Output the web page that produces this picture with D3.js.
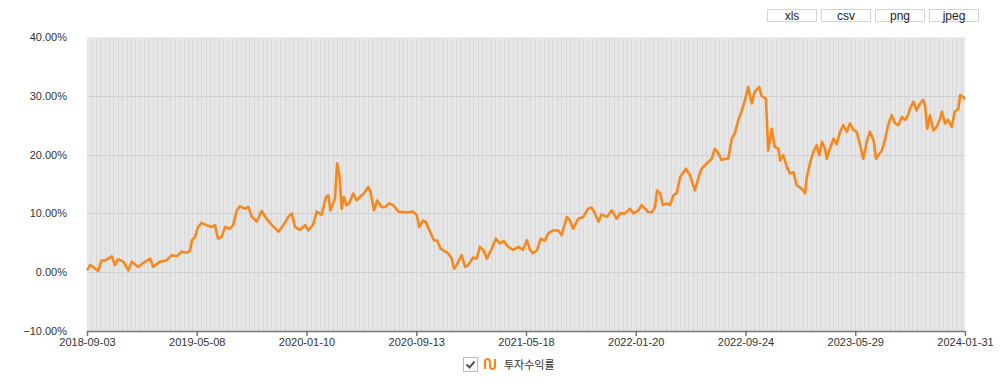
<!DOCTYPE html>
<html><head><meta charset="utf-8">
<script src="https://cdn.jsdelivr.net/npm/d3@7"></script>
<style>
html,body{margin:0;padding:0;background:#fff;}
svg{display:block;font-family:"Liberation Sans",Arial,sans-serif;}
</style></head>
<body><svg id="c" width="1005" height="384"></svg>
<script>
const dates = ["2018-09-03","2018-09-10","2018-09-17","2018-09-28","2018-10-06","2018-10-14","2018-10-29","2018-11-05","2018-11-12","2018-11-24",
"2018-12-05","2018-12-13","2018-12-27","2019-01-08","2019-01-23","2019-01-30","2019-02-14","2019-03-01","2019-03-13","2019-03-24",
"2019-04-04","2019-04-15","2019-04-23","2019-04-27","2019-05-04","2019-05-11","2019-05-19","2019-05-30","2019-06-11","2019-06-18",
"2019-06-25","2019-07-03","2019-07-11","2019-07-22","2019-07-29","2019-08-06","2019-08-13","2019-08-25","2019-09-01","2019-09-09",
"2019-09-20","2019-10-01","2019-10-12","2019-10-24","2019-11-08","2019-11-19","2019-11-30","2019-12-08","2019-12-15","2019-12-26",
"2020-01-07","2020-01-14","2020-01-25","2020-02-02","2020-02-13","2020-02-23","2020-02-28","2020-03-04","2020-03-10","2020-03-14",
"2020-03-19","2020-03-24","2020-03-29","2020-04-03","2020-04-09","2020-04-15","2020-04-24","2020-05-02","2020-05-09","2020-05-18",
"2020-05-28","2020-06-02","2020-06-10","2020-06-17","2020-06-27","2020-07-05","2020-07-14","2020-07-23","2020-08-04","2020-08-15",
"2020-08-26","2020-09-06","2020-09-14","2020-09-20","2020-09-28","2020-10-05","2020-10-14","2020-10-23","2020-10-30","2020-11-07",
"2020-11-17","2020-11-24","2020-12-02","2020-12-07","2020-12-13","2020-12-24","2021-01-01","2021-01-08","2021-01-19","2021-01-27",
"2021-02-03","2021-02-11","2021-02-19","2021-03-02","2021-03-11","2021-03-20","2021-03-29","2021-04-08","2021-04-19","2021-05-01",
"2021-05-11","2021-05-20","2021-05-27","2021-06-03","2021-06-12","2021-06-20","2021-06-30","2021-07-07","2021-07-18","2021-07-30",
"2021-08-06","2021-08-18","2021-08-25","2021-09-01","2021-09-13","2021-09-24","2021-10-05","2021-10-13","2021-10-20","2021-10-28",
"2021-11-04","2021-11-16","2021-11-27","2021-12-08","2021-12-16","2021-12-27","2022-01-07","2022-01-15","2022-01-26","2022-02-02",
"2022-02-10","2022-02-17","2022-02-25","2022-03-04","2022-03-09","2022-03-16","2022-03-22","2022-03-31","2022-04-07","2022-04-15",
"2022-04-22","2022-04-30","2022-05-13","2022-05-22","2022-06-02","2022-06-10","2022-06-17","2022-06-29","2022-07-10","2022-07-17",
"2022-07-25","2022-08-01","2022-08-09","2022-08-16","2022-08-24","2022-08-31","2022-09-08","2022-09-15","2022-09-23","2022-09-30",
"2022-10-08","2022-10-15","2022-10-25","2022-10-30","2022-11-09","2022-11-14","2022-11-22","2022-11-29","2022-12-07","2022-12-11",
"2022-12-18","2022-12-26","2023-01-02","2023-01-10","2023-01-17","2023-01-25","2023-02-01","2023-02-05","2023-02-09","2023-02-16",
"2023-02-24","2023-03-03","2023-03-09","2023-03-15","2023-03-22","2023-03-26","2023-04-02","2023-04-10","2023-04-17","2023-04-25",
"2023-05-02","2023-05-10","2023-05-17","2023-05-25","2023-06-01","2023-06-09","2023-06-16","2023-06-24","2023-07-01","2023-07-09",
"2023-07-15","2023-07-20","2023-07-28","2023-08-04","2023-08-11","2023-08-19","2023-08-27","2023-09-03","2023-09-11","2023-09-18",
"2023-09-25","2023-09-29","2023-10-07","2023-10-14","2023-10-22","2023-10-29","2023-11-02","2023-11-07","2023-11-13","2023-11-21",
"2023-11-28","2023-12-06","2023-12-10","2023-12-17","2023-12-24","2024-01-01","2024-01-08","2024-01-16","2024-01-20","2024-01-27",
"2024-01-31"];
const returns = [0.3,1.2,0.9,0.2,2.0,2.0,2.7,1.2,2.2,1.8,
0.3,1.8,0.9,1.6,2.3,0.9,1.8,2.0,2.9,2.7,
3.5,3.3,3.7,5.4,6.0,7.7,8.4,8.0,7.7,8.0,
5.7,6.0,7.7,7.4,8.0,10.5,11.2,10.8,11.1,9.4,
8.6,10.4,9.1,8.0,6.9,8.0,9.4,10.0,7.7,7.2,
8.0,7.1,8.1,10.3,9.8,12.8,13.1,10.5,11.7,12.5,
18.5,16.5,10.8,12.8,11.4,11.7,13.4,12.2,12.8,13.4,
14.5,13.7,10.5,12.2,11.1,11.1,11.7,11.4,10.3,10.2,
10.2,10.3,9.7,7.7,8.8,8.5,6.9,5.4,5.4,4.0,
3.5,3.2,2.3,0.6,1.2,2.9,0.9,1.2,2.5,2.3,
4.3,3.8,2.3,4.0,5.7,4.9,5.3,4.3,3.8,4.3,
3.8,5.4,3.8,3.2,3.8,5.7,5.4,6.6,7.1,7.1,
6.3,9.4,8.8,7.4,9.1,9.4,10.8,11.0,10.0,8.6,
9.8,9.4,10.5,9.1,10.0,10.0,10.8,10.0,10.5,11.4,
10.8,10.2,10.2,11.0,13.9,13.4,11.4,11.7,11.4,13.1,
13.4,16.2,17.6,16.5,13.9,16.0,17.6,18.5,19.3,21.0,
20.2,19.1,19.3,19.3,22.7,23.6,25.9,27.3,29.3,31.5,
28.7,30.7,31.5,30.0,29.5,20.7,24.4,21.3,21.0,19.0,
19.9,17.9,16.8,17.0,14.8,14.4,13.9,13.4,16.2,18.5,
20.5,21.6,19.9,22.2,21.0,19.3,21.0,22.7,21.8,23.9,
25.0,23.9,25.3,24.2,23.9,21.6,19.3,22.2,23.9,22.5,
19.3,19.9,20.7,22.5,25.0,26.7,25.3,25.0,26.4,25.9,
26.7,27.8,29.0,27.5,28.7,29.3,28.4,24.4,26.7,24.1,
24.7,26.1,27.3,25.3,25.9,24.7,27.3,27.8,30.1,29.8,
29.4];
const xTickLabels = ["2018-09-03","2019-05-08","2020-01-10","2020-09-13","2021-05-18","2022-01-20","2022-09-24","2023-05-29","2024-01-31"];
const yTicks = [-10,0,10,20,30,40];
const seriesName = "투자수익률";
const buttons = ["xls","csv","png","jpeg"];

const svg = d3.select("#c");
const L = 87, R = 965, T = 37, B = 331;
const parse = d3.timeParse("%Y-%m-%d");
const data = dates.map((d,i)=>({date:parse(d), v:returns[i]}));
const x = d3.scaleTime().domain([parse(xTickLabels[0]), parse(xTickLabels[xTickLabels.length-1])]).range([L,R]);
const y = d3.scaleLinear().domain([-10,40]).range([B,T]);

// background
svg.append("rect").attr("x",L).attr("y",T).attr("width",R-L).attr("height",B-T).attr("fill","#e6e6e6");

// vertical minor gridlines (200 intervals across the domain)
const t0 = x.domain()[0].getTime(), t1 = x.domain()[1].getTime();
const nV = 200;
const vg = d3.range(1,nV).map(i=>new Date(t0 + (t1-t0)*i/nV));
svg.append("g").selectAll("line").data(vg).join("line")
  .attr("x1",d=>Math.round(x(d))+0.5).attr("x2",d=>Math.round(x(d))+0.5)
  .attr("y1",T).attr("y2",B).attr("stroke","#d9d9d9").attr("stroke-width",1);

// horizontal gridlines
svg.append("g").selectAll("line").data(yTicks.filter(v=>v>-10)).join("line")
  .attr("x1",L).attr("x2",R).attr("y1",d=>Math.round(y(d))+0.5).attr("y2",d=>Math.round(y(d))+0.5)
  .attr("stroke",d=>d===40?"#ececec":"#d0d0d0").attr("stroke-width",1);

// y axis labels
svg.append("g").selectAll("text").data(yTicks).join("text")
  .attr("x",67).attr("y",d=>y(d)+4).attr("text-anchor","end")
  .attr("font-size",11).attr("fill","#333").text(d=>d3.format(".2f")(d)+"%");

// x axis
const xAxis = d3.axisBottom(x).tickValues(xTickLabels.map(parse)).tickFormat(d3.timeFormat("%Y-%m-%d")).tickSize(5).tickSizeOuter(0);
const gx = svg.append("g").attr("transform",`translate(0,${B})`).call(xAxis);
gx.select(".domain").attr("stroke","#777").attr("stroke-width",1.5);
gx.selectAll(".tick line").attr("stroke","#777").attr("stroke-width",1.5);
gx.selectAll(".tick text").attr("font-size",11).attr("fill","#333").attr("dy","0.75em").attr("y",7)
  .attr("font-family",'"Liberation Sans",Arial,sans-serif');

// line
const line = d3.line().x(d=>x(d.date)).y(d=>y(d.v));
svg.append("path").datum(data).attr("d",line).attr("fill","none")
  .attr("stroke","#f5891f").attr("stroke-width",2.6).attr("stroke-linejoin","round");

// buttons
const bx = d3.scaleBand().domain(buttons).range([767,979]).paddingInner(0.075).paddingOuter(0);
const bg = svg.append("g").selectAll("g").data(buttons).join("g").attr("transform",d=>`translate(${bx(d)},9)`);
bg.append("rect").attr("x",0.5).attr("y",0.5).attr("width",bx.bandwidth()-1).attr("height",12)
  .attr("fill","#fff").attr("stroke","#d4d4d4");
bg.append("text").attr("x",bx.bandwidth()/2).attr("y",10.5).attr("text-anchor","middle")
  .attr("font-size",12).attr("fill","#222").text(d=>d);

// legend
const lg = svg.append("g").attr("transform","translate(463,357)");
lg.append("rect").attr("x",0.5).attr("y",0.5).attr("width",14).attr("height",14).attr("fill","#fff").attr("stroke","#bbb");
lg.append("path").attr("d","M3.5,7.5 L6.5,10.5 L11.5,4.5").attr("fill","none").attr("stroke","#555").attr("stroke-width",2);
lg.append("path").attr("d","M22,12 L22,5 Q22,2 24.5,2 Q27,2 27,6 L27,9 Q27,12 29.5,12 Q32,12 32,9 L32,2")
  .attr("fill","none").attr("stroke","#f5891f").attr("stroke-width",2.2);
lg.append("text").attr("x",41).attr("y",12).attr("font-size",11).attr("fill","#333")
  .attr("font-family",'"Noto Sans CJK KR",sans-serif').text(seriesName);
</script></body></html>
